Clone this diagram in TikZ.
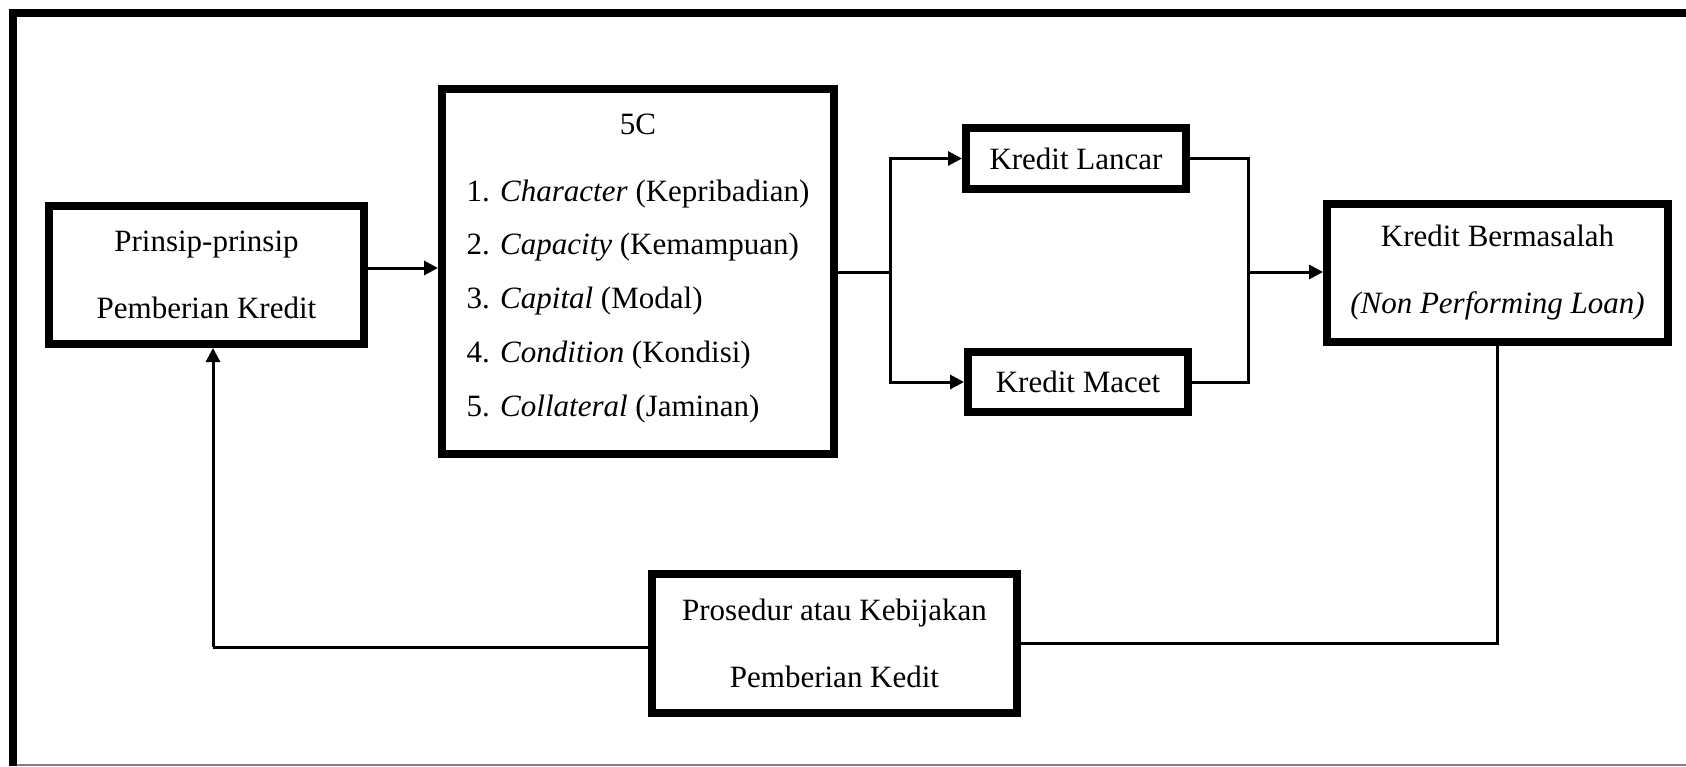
\documentclass[tikz,border=0pt]{standalone}
\usepackage{fontspec}
\setmainfont{Liberation Serif}
\usetikzlibrary{arrows.meta}

\tikzset{
  box/.style={draw, line width=4pt, inner sep=0pt, align=center,
    font=\fontsize{15.5pt}{33.5pt}\selectfont},
  conn/.style={line width=1.5pt},
  arr/.style={conn, -{Triangle[length=7pt,width=7pt]}},
  frame/.style={line width=4pt},
}

\begin{document}
\begin{tikzpicture}[x=0.5pt, y=-0.5pt]
\useasboundingbox (0,0) rectangle (1686,766);

% page frame: left and top edges, thin rule along the bottom
\draw[frame] (13,766) -- (13,13) -- (1686,13);
\draw[gray, line width=0.6pt] (17,765) -- (1686,765);

% boxes
\node[box, minimum width=157.5pt, minimum height=69pt] (prinsip) at (206.5,275)
  {Prinsip-prinsip\\Pemberian Kredit};
\node[box, minimum width=196pt, minimum height=182.5pt] (c5) at (638,271.5)
  {\fontsize{15.5pt}{26.9pt}\selectfont\raisebox{3.5pt}[\height][\depth]{%
   \begin{tabular}{@{}l@{}}
     \multicolumn{1}{@{}c@{}}{5C}\\[6.6pt]
     1. \textit{Character} (Kepribadian)\\
     2. \textit{Capacity} (Kemampuan)\\
     3. \textit{Capital} (Modal)\\
     4. \textit{Condition} (Kondisi)\\
     5. \textit{Collateral} (Jaminan)
   \end{tabular}}};
\node[box, minimum width=110pt, minimum height=30.5pt] (lancar) at (1076,158.5)
  {Kredit Lancar};
\node[box, minimum width=110pt, minimum height=30pt] (macet) at (1078,382)
  {Kredit Macet};
\node[box, minimum width=170.5pt, minimum height=69pt] (npl) at (1497.5,273)
  {Kredit Bermasalah\\\textit{(Non Performing Loan)}};
\node[box, minimum width=182.5pt, minimum height=69.5pt] (prosedur) at (834.5,643.5)
  {Prosedur atau Kebijakan\\Pemberian Kedit};

% junction points
\coordinate (inrow) at (0,268);
\coordinate (split) at (890,272);
\coordinate (join) at (1248,272);
\coordinate (back) at (213,647);

% connectors
\draw[arr] (prinsip.east |- inrow) -- (c5.west |- inrow);
\draw[conn] (c5.east |- split) -- (split);
\draw[arr] (split) |- (lancar.west);
\draw[arr] (split) |- (macet.west);
\draw[conn] (lancar.east) -| (join);
\draw[conn] (macet.east) -| (join);
\draw[arr] (join) -- (npl.west |- join);
\draw[conn] (npl.south) |- (prosedur.east);
\draw[conn] (prosedur.west |- back) -- (back);
\draw[arr] (back) -- (prinsip.south -| back);
\end{tikzpicture}
\end{document}
